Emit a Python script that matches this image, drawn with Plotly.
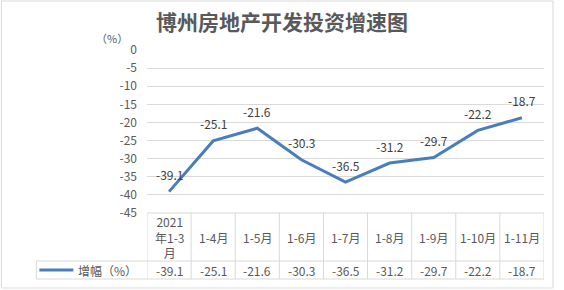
import plotly.graph_objects as go

categories = ["2021<br>年1-3<br>月", "1-4月", "1-5月", "1-6月", "1-7月", "1-8月", "1-9月", "1-10月", "1-11月"]
values = [-39.1, -25.1, -21.6, -30.3, -36.5, -31.2, -29.7, -22.2, -18.7]
series_name = "增幅（%）"
y_ticks = [0, -5, -10, -15, -20, -25, -30, -35, -40, -45]
title = "博州房地产开发投资增速图"

W, H = 564, 290
L, R, T, B = 146.7, 544, 50, 213
FONT = "Noto Sans CJK SC, Noto Sans, sans-serif"
GRID = "#D9D9D9"
TXT = "#595959"
LINE = "#4A7EBB"

def px(xp):
    return (xp - L) / (R - L)

def py(yp):
    return (B - yp) / (B - T)

xs = list(range(len(categories)))

fig = go.Figure()
fig.add_trace(go.Scatter(x=xs, y=values, mode="lines",
                         line=dict(color=LINE, width=3), hoverinfo="skip",
                         showlegend=False))

ann = []
for i, v in enumerate(values):
    ann.append(dict(x=i, y=v, xref="x", yref="y", text=f"{v}", showarrow=False,
                    yshift=17, font=dict(size=12, color="#404040", family=FONT)))
    # header row text
    ann.append(dict(x=i, y=py(237), xref="x", yref="paper", text=categories[i],
                    showarrow=False, font=dict(size=12, color=TXT, family=FONT),
                    yanchor="middle"))
    # data row text
    ann.append(dict(x=i, y=py(270.5), xref="x", yref="paper", text=f"{v}",
                    showarrow=False, font=dict(size=12, color=TXT, family=FONT),
                    yanchor="middle"))

ann.append(dict(x=px(76), y=py(270.5), xref="paper", yref="paper", text=series_name,
                showarrow=False, xanchor="left", yanchor="middle",
                font=dict(size=12, color=TXT, family=FONT)))
ann.append(dict(x=px(112), y=py(38), xref="paper", yref="paper", text="（%）",
                showarrow=False, xanchor="center", yanchor="middle",
                font=dict(size=11, color=TXT, family=FONT)))

shapes = []
# outer border
shapes.append(dict(type="rect", xref="paper", yref="paper", x0=px(1), x1=px(553),
                   y0=py(288), y1=py(1), line=dict(color=GRID, width=1)))
# table horizontal lines
shapes.append(dict(type="line", xref="paper", yref="paper", x0=0, x1=1,
                   y0=py(213), y1=py(213), line=dict(color=GRID, width=1)))
for yy in (261, 279):
    shapes.append(dict(type="line", xref="paper", yref="paper", x0=px(36), x1=1,
                       y0=py(yy), y1=py(yy), line=dict(color=GRID, width=1)))
# table vertical lines at category boundaries
for k in range(len(categories) + 1):
    shapes.append(dict(type="line", xref="x", yref="paper", x0=k - 0.5, x1=k - 0.5,
                       y0=py(279), y1=py(213), line=dict(color=GRID, width=1)))
shapes.append(dict(type="line", xref="paper", yref="paper", x0=px(36), x1=px(36),
                   y0=py(279), y1=py(261), line=dict(color=GRID, width=1)))
# legend key line
shapes.append(dict(type="line", xref="paper", yref="paper", x0=px(39), x1=px(73),
                   y0=py(270), y1=py(270), line=dict(color=LINE, width=3)))

fig.update_layout(
    width=W, height=H,
    margin=dict(l=L, r=W - R, t=T, b=H - B),
    paper_bgcolor="white", plot_bgcolor="white",
    title=dict(text=f"<b>{title}</b>", x=0.5, xanchor="center", y=1 - 23 / H,
               yanchor="middle", font=dict(size=21, color=TXT, family=FONT)),
    xaxis=dict(range=[-0.5, len(categories) - 0.5], showgrid=False, zeroline=False,
               showticklabels=False, showline=False, fixedrange=True),
    yaxis=dict(range=[-45, 0], tickvals=y_ticks, ticktext=[str(t) for t in y_ticks],
               showgrid=True, gridcolor=GRID, gridwidth=1, zeroline=False,
               showline=False, ticklabelstandoff=9,
               tickfont=dict(size=12, color=TXT, family=FONT), fixedrange=True),
    annotations=ann, shapes=shapes, showlegend=False,
)

fig.write_html("out.html")
